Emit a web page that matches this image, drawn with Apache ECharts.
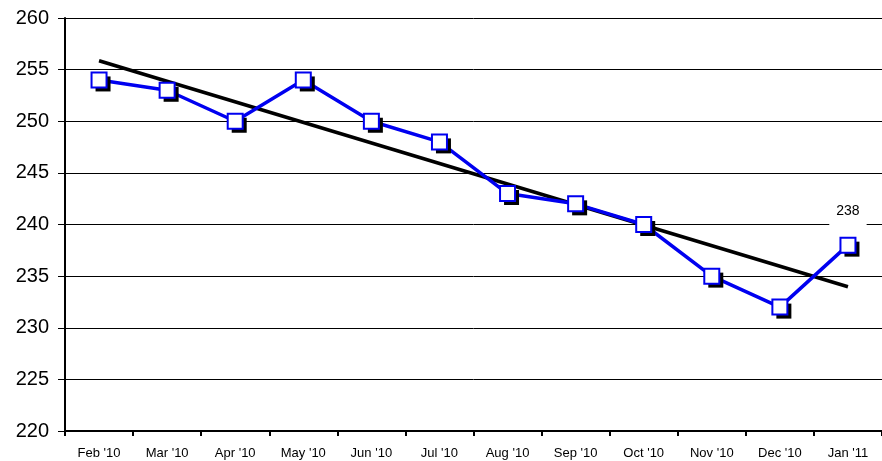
<!DOCTYPE html>
<html>
<head>
<meta charset="utf-8">
<script src="https://cdn.jsdelivr.net/npm/echarts@6/dist/echarts.min.js"></script>
<style>html,body{margin:0;padding:0;background:#fff;}#c{width:882px;height:461px;}</style>
</head>
<body>
<div id="c"></div>
<script>
var categories = ["Feb '10","Mar '10","Apr '10","May '10","Jun '10","Jul '10","Aug '10","Sep '10","Oct '10","Nov '10","Dec '10","Jan '11"];
var values = [254, 253, 250, 254, 250, 248, 243, 242, 240, 235, 232, 238];
var trendEnds = [255.86, 233.97];
var yTicks = [220, 225, 230, 235, 240, 245, 250, 255, 260];

var trendData = categories.map(function (c, i) {
  if (i === 0) return trendEnds[0];
  if (i === categories.length - 1) return trendEnds[1];
  return '-';
});

var squareData = values.map(function (v, i) {
  if (i === values.length - 1) {
    return {
      value: v,
      label: {
        show: true,
        position: 'top',
        distance: 11,
        color: '#000',
        fontFamily: 'Liberation Sans, Arial',
        fontSize: 14,
        backgroundColor: '#fff',
        padding: [3, 7, 8, 7],
        formatter: '{c}'
      }
    };
  }
  return v;
});

var chart = echarts.init(document.getElementById('c'));
chart.setOption({
  animation: false,
  backgroundColor: '#fff',
  grid: { left: 65, right: 0, top: 18, bottom: 30 },
  xAxis: {
    type: 'category',
    data: categories,
    boundaryGap: true,
    axisLine: { lineStyle: { color: '#000', width: 2 } },
    axisTick: { show: true, length: 5, lineStyle: { color: '#000', width: 2 } },
    axisLabel: { color: '#000', fontFamily: 'Liberation Sans, Arial', fontSize: 13, margin: 16, interval: 0 },
    splitLine: { show: false }
  },
  yAxis: {
    type: 'value',
    min: yTicks[0],
    max: yTicks[yTicks.length - 1],
    interval: 5,
    axisLine: { show: true, lineStyle: { color: '#000', width: 2 } },
    axisTick: { show: true, length: 7, lineStyle: { color: '#000', width: 1 } },
    axisLabel: { color: '#000', fontFamily: 'Liberation Sans, Arial', fontSize: 20, margin: 16 },
    splitLine: { show: true, lineStyle: { color: '#000', width: 1 } }
  },
  series: [
    {
      type: 'line',
      data: trendData,
      connectNulls: true,
      symbol: 'none',
      lineStyle: { color: '#000', width: 3.5 },
      z: 2
    },
    {
      type: 'line',
      data: values,
      symbol: 'none',
      lineStyle: { color: '#0000F0', width: 3.5 },
      z: 3
    },
    {
      type: 'scatter',
      data: values,
      symbol: 'rect',
      symbolSize: 15,
      symbolOffset: [4, 4],
      itemStyle: { color: '#000', opacity: 1 },
      z: 4
    },
    {
      type: 'scatter',
      data: squareData,
      symbol: 'rect',
      symbolSize: 15,
      itemStyle: { color: '#fff', borderColor: '#0000F0', borderWidth: 2, opacity: 1 },
      z: 5
    }
  ]
});
</script>
</body>
</html>
